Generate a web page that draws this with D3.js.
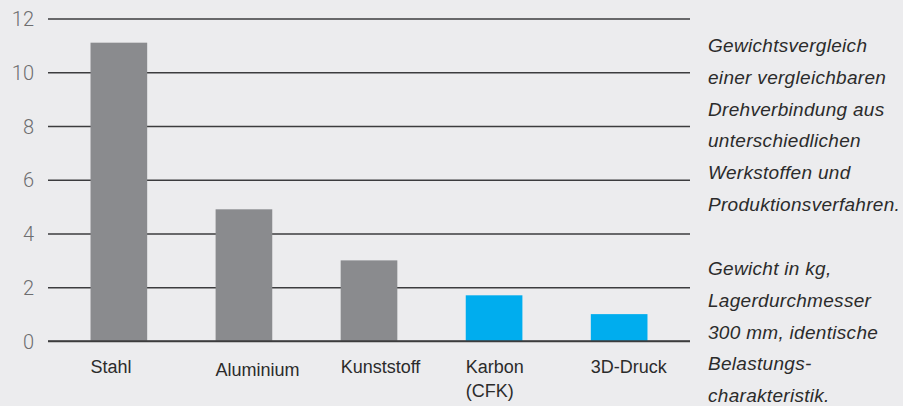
<!DOCTYPE html>
<html>
<head>
<meta charset="utf-8">
<script src="https://cdn.jsdelivr.net/npm/d3@7"></script>
<style>
  html, body { margin: 0; padding: 0; background: #ececee; }
  svg { display: block; }
  .tick-label { font-family: Roboto, "Liberation Sans", sans-serif; font-weight: 300; font-size: 20px; fill: #6e6e70; }
  .cat-label { font-family: "Liberation Sans", Arial, sans-serif; font-size: 18px; fill: #2b2b2b; }
  .note { font-family: "Liberation Sans", Arial, sans-serif; font-style: italic; font-size: 19px; letter-spacing: 0.3px; fill: #2b2b2b; }
</style>
</head>
<body>
<div id="chart"></div>
<script>
// data (weight in kg)
const categories = ["Stahl", "Aluminium", "Kunststoff", "Karbon (CFK)", "3D-Druck"];
const labelLines = [["Stahl"], ["Aluminium"], ["Kunststoff"], ["Karbon", "(CFK)"], ["3D-Druck"]];
const values = [11.1, 4.9, 3.0, 1.7, 1.0];
const groups = ["klassisch", "klassisch", "klassisch", "neu", "neu"];
const yTicks = [0, 2, 4, 6, 8, 10, 12];
const noteTop = ["Gewichtsvergleich", "einer vergleichbaren", "Drehverbindung aus",
                 "unterschiedlichen", "Werkstoffen und", "Produktionsverfahren."];
const noteBottom = ["Gewicht in kg,", "Lagerdurchmesser", "300 mm, identische",
                    "Belastungs-", "charakteristik."];

const width = 903, height = 406;
const margin = { top: 18.5, left: 48, right: 213, bottom: 65 };

const data = categories.map((c, i) => ({ cat: c, lines: labelLines[i], value: values[i], group: groups[i] }));

const svg = d3.select("#chart")
  .append("svg")
    .attr("width", width)
    .attr("height", height);

/* scales */
const xScale = d3.scaleBand()
  .domain(categories)
  .range([margin.left, width - margin.right])
  .paddingInner(0.547)
  .paddingOuter(0.34);

const yScale = d3.scaleLinear()
  .domain([0, 12])
  .range([height - margin.bottom, margin.top]);

const colorScale = d3.scaleOrdinal()
  .domain(["klassisch", "neu"])
  .range(["#8a8b8e", "#00adee"]);

/* grid lines + tick labels via axisLeft */
const leftAxis = d3.axisLeft(yScale)
  .tickValues(yTicks)
  .tickSize(-(width - margin.right - margin.left))
  .tickPadding(14)
  .tickFormat(d3.format("d"));

const axisG = svg.append("g")
  .attr("transform", `translate(${margin.left}, 0)`)
  .call(leftAxis);

axisG.select(".domain").remove();
axisG.selectAll(".tick line")
  .attr("stroke", "#3c3c3e")
  .attr("stroke-width", 1.4);
axisG.selectAll(".tick text")
  .attr("class", "tick-label")
  .attr("font-family", null)
  .attr("font-size", null)
  .attr("fill", null)
  .attr("dy", "0.36em");

/* bars */
svg.append("g")
  .selectAll("rect")
  .data(data)
  .join("rect")
    .attr("x", d => xScale(d.cat))
    .attr("y", d => yScale(d.value))
    .attr("width", xScale.bandwidth())
    .attr("height", d => yScale(0) - yScale(d.value))
    .attr("fill", d => colorScale(d.group));

// baseline over the bars
svg.append("line")
  .attr("x1", margin.left)
  .attr("x2", width - margin.right)
  .attr("y1", yScale(0))
  .attr("y2", yScale(0))
  .attr("stroke", "#3c3c3e")
  .attr("stroke-width", 1.4);

/* category labels, left aligned with the bar */
const labels = svg.append("g")
  .selectAll("text")
  .data(data)
  .join("text")
    .attr("class", "cat-label")
    .attr("x", d => xScale(d.cat))
    .attr("y", (d, i) => yScale(0) + (i === 1 ? 35 : 32));

labels.selectAll("tspan")
  .data(d => d.lines)
  .join("tspan")
    .attr("x", function () { return d3.select(this.parentNode).attr("x"); })
    .attr("dy", (d, i) => i === 0 ? 0 : 24)
    .text(d => d);

/* side note */
const noteX = 708;
const lineH = 31.8;

svg.append("text")
  .attr("class", "note")
  .selectAll("tspan")
  .data(noteTop)
  .join("tspan")
    .attr("x", noteX)
    .attr("y", (d, i) => 52 + i * lineH)
    .text(d => d);

svg.append("text")
  .attr("class", "note")
  .selectAll("tspan")
  .data(noteBottom)
  .join("tspan")
    .attr("x", noteX)
    .attr("y", (d, i) => 275 + i * lineH)
    .text(d => d);
</script>
</body>
</html>
